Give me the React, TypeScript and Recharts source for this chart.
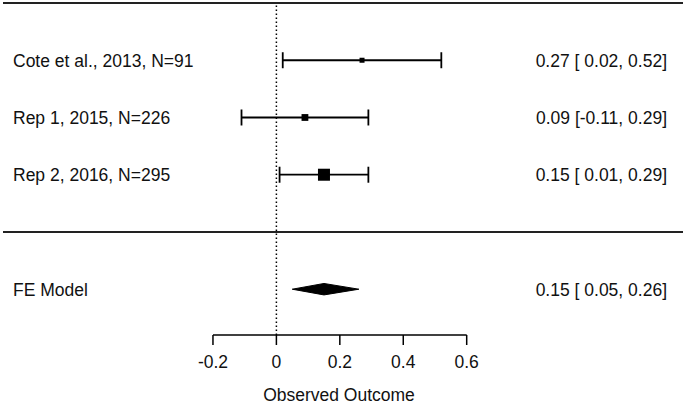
import { ComposedChart, Scatter, ErrorBar, XAxis, YAxis, ReferenceLine } from 'recharts';

const studies = ['Cote et al., 2013, N=91', 'Rep 1, 2015, N=226', 'Rep 2, 2016, N=295'];
const estimates = [0.27, 0.09, 0.15];
const ciLower = [0.02, -0.11, 0.01];
const ciUpper = [0.52, 0.29, 0.29];
const studyRows = [5, 4, 3];

const feLabel = 'FE Model';
const feEstimate = 0.15;
const feLower = 0.05;
const feUpper = 0.26;
const feRow = 1;

const xTicks = [-0.2, 0, 0.2, 0.4, 0.6];

const FONT = '"Liberation Sans", Arial, Helvetica, sans-serif';
const FS = 17.5;

const pad = (v: number) => (v < 0 ? '' : ' ') + v.toFixed(2);
const ciText = (est: number, lo: number, hi: number) => `${est.toFixed(2)} [${pad(lo)}, ${hi.toFixed(2)}]`;

// inverse variance weights -> marker size
const weights = ciLower.map((lo, i) => {
  const se = (ciUpper[i] - lo) / 3.92;
  return 1 / (se * se);
});
const wMin = Math.min(...weights);
const wMax = Math.max(...weights);

const studyData = studies.map((name, i) => ({
  name,
  row: studyRows[i],
  est: estimates[i],
  lo: ciLower[i],
  hi: ciUpper[i],
  size: 5 + (7 * (weights[i] - wMin)) / (wMax - wMin),
}));

const DIAMOND_H = 0.1;
const feDiamond = [
  { est: feLower, row: feRow },
  { est: feEstimate, row: feRow + DIAMOND_H },
  { est: feUpper, row: feRow },
  { est: feEstimate, row: feRow - DIAMOND_H },
];

const rowLabels: Record<number, [string, string]> = {};
studyData.forEach((d) => {
  rowLabels[d.row] = [d.name, ciText(d.est, d.lo, d.hi)];
});
rowLabels[feRow] = [feLabel, ciText(feEstimate, feLower, feUpper)];

const RowTick = (props: any) => {
  const labels = rowLabels[props.payload.value];
  if (!labels) return <g />;
  return (
    <g>
      <text x={13} y={props.y} dy="0.36em" fontSize={FS} fontFamily={FONT} fill="#111" textAnchor="start">
        {labels[0]}
      </text>
      <text x={667} y={props.y} dy="0.36em" fontSize={FS} fontFamily={FONT} fill="#111" textAnchor="end" style={{ whiteSpace: 'pre' }}>
        {labels[1]}
      </text>
    </g>
  );
};

const Square = (props: any) => {
  const s = props.payload.size;
  return <rect x={props.cx - s / 2} y={props.cy - s / 2} width={s} height={s} fill="#000" />;
};

const Diamond = (props: any) => (
  <polygon points={props.points.map((p: any) => `${p.x},${p.y}`).join(' ')} fill="#000" stroke="#000" strokeWidth={1} />
);

export default function App() {
  return (
    <div style={{ position: 'absolute', left: 0, top: 0, background: '#fff' }}>
      <ComposedChart width={685} height={405} margin={{ top: 3, right: 2, left: 3, bottom: 0 }}>
        <XAxis
          type="number"
          dataKey="est"
          domain={[-0.862, 1.282]}
          allowDataOverflow
          ticks={xTicks}
          axisLine={false}
          tickSize={10}
          tickMargin={11}
          height={70}
          tickLine={{ stroke: '#000', strokeWidth: 1.5 }}
          tick={{ fill: '#111', fontSize: FS, fontFamily: FONT }}
          label={{ value: 'Observed Outcome', position: 'insideBottom', offset: 4, dx: -4, fill: '#111', fontSize: FS, fontFamily: FONT }}
        />
        <YAxis
          type="number"
          dataKey="row"
          domain={[0.2, 6]}
          allowDataOverflow
          ticks={[...studyRows, feRow]}
          mirror
          axisLine={false}
          tickLine={false}
          tick={RowTick}
        />
        <ReferenceLine y={6} stroke="#222" strokeWidth={2} />
        <ReferenceLine y={2} stroke="#222" strokeWidth={2} />
        <ReferenceLine x={0} stroke="#000" strokeWidth={1.5} strokeDasharray="1.5 2.5" />
        <ReferenceLine segment={[{ x: xTicks[0], y: 0.2 }, { x: xTicks[xTicks.length - 1], y: 0.2 }]} stroke="#000" strokeWidth={1.5} />
        <Scatter data={studyData} dataKey="est" shape={Square} isAnimationActive={false}>
          <ErrorBar
            dataKey={(d: any) => [d.est - d.lo, d.hi - d.est]}
            direction="x"
            width={8}
            stroke="#000"
            strokeWidth={1.8}
            isAnimationActive={false}
          />
        </Scatter>
        <Scatter
          data={feDiamond}
          dataKey="est"
          shape={() => <g />}
          line={Diamond}
          lineType="joint"
          isAnimationActive={false}
        />
      </ComposedChart>
    </div>
  );
}
